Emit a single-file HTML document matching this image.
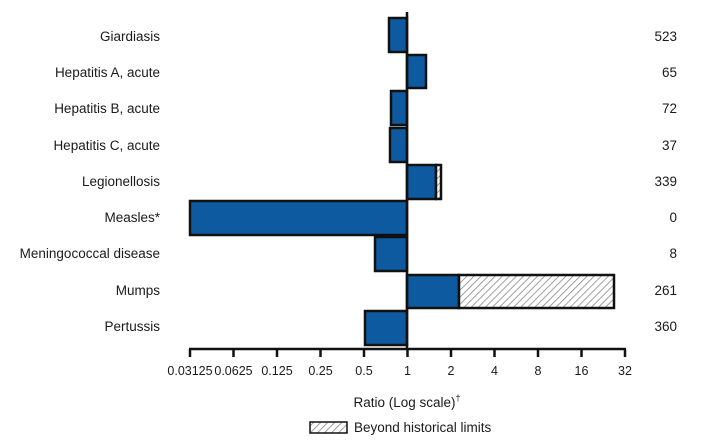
<!DOCTYPE html>
<html><head><style>body{margin:0;background:#fff}svg{display:block}text{font-family:"Liberation Sans",sans-serif;font-size:13.5px;fill:#1a1a1a}</style></head><body>
<svg width="702" height="444" viewBox="0 0 702 444">
<defs><pattern id="h" width="5" height="5" patternUnits="userSpaceOnUse" patternTransform="rotate(45)"><rect width="5" height="5" fill="#fff"/><line x1="0" y1="0" x2="0" y2="5" stroke="#888" stroke-width="1.6"/></pattern></defs>
<g stroke="#111" stroke-width="2.5">
<rect x="389" y="18" width="18" height="34" fill="#0e5aa0"/>
<rect x="407" y="55" width="19" height="33" fill="#0e5aa0"/>
<rect x="391" y="91" width="16" height="34" fill="#0e5aa0"/>
<rect x="390" y="128" width="17" height="34" fill="#0e5aa0"/>
<rect x="407" y="165" width="29" height="34" fill="#0e5aa0"/>
<rect x="436" y="165" width="5" height="34" fill="url(#h)"/>
<rect x="190" y="201" width="217" height="34" fill="#0e5aa0"/>
<rect x="375" y="237" width="32" height="34" fill="#0e5aa0"/>
<rect x="407" y="275" width="52" height="33" fill="#0e5aa0"/>
<rect x="459" y="275" width="155" height="33" fill="url(#h)"/>
<rect x="365" y="311" width="42" height="34" fill="#0e5aa0"/>
<line x1="407" y1="12" x2="407" y2="349"/>
<line x1="189" y1="349" x2="626" y2="349"/>
<line x1="190" y1="349" x2="190" y2="357"/><line x1="233.5" y1="349" x2="233.5" y2="357"/><line x1="277" y1="349" x2="277" y2="357"/><line x1="320.5" y1="349" x2="320.5" y2="357"/><line x1="364" y1="349" x2="364" y2="357"/><line x1="407.5" y1="349" x2="407.5" y2="357"/><line x1="451" y1="349" x2="451" y2="357"/><line x1="494.5" y1="349" x2="494.5" y2="357"/><line x1="538" y1="349" x2="538" y2="357"/><line x1="581.5" y1="349" x2="581.5" y2="357"/><line x1="625" y1="349" x2="625" y2="357"/>
<rect x="310" y="422" width="37" height="11" fill="url(#h)" stroke-width="1.5"/>
</g>
<g text-anchor="end">
<text x="160" y="41">Giardiasis</text><text x="160" y="77">Hepatitis A, acute</text><text x="160" y="113">Hepatitis B, acute</text><text x="160" y="150">Hepatitis C, acute</text><text x="160" y="186">Legionellosis</text><text x="160" y="222">Measles*</text><text x="160" y="258">Meningococcal disease</text><text x="160" y="295">Mumps</text><text x="160" y="331">Pertussis</text>
<text x="677" y="41">523</text><text x="677" y="77">65</text><text x="677" y="113">72</text><text x="677" y="150">37</text><text x="677" y="186">339</text><text x="677" y="222">0</text><text x="677" y="258">8</text><text x="677" y="295">261</text><text x="677" y="331">360</text>
</g>
<g text-anchor="middle" style="font-size:12.5px">
<text x="190" y="375" style="font-size:12.5px">0.03125</text><text x="233.5" y="375" style="font-size:12.5px">0.0625</text><text x="277" y="375" style="font-size:12.5px">0.125</text><text x="320.5" y="375" style="font-size:12.5px">0.25</text><text x="364" y="375" style="font-size:12.5px">0.5</text><text x="407.5" y="375" style="font-size:12.5px">1</text><text x="451" y="375" style="font-size:12.5px">2</text><text x="494.5" y="375" style="font-size:12.5px">4</text><text x="538" y="375" style="font-size:12.5px">8</text><text x="581.5" y="375" style="font-size:12.5px">16</text><text x="625" y="375" style="font-size:12.5px">32</text>
</g>
<text x="407" y="407" text-anchor="middle">Ratio (Log scale)<tspan dy="-6" style="font-size:9px">†</tspan></text>
<text x="354" y="432">Beyond historical limits</text>
</svg>
</body></html>
